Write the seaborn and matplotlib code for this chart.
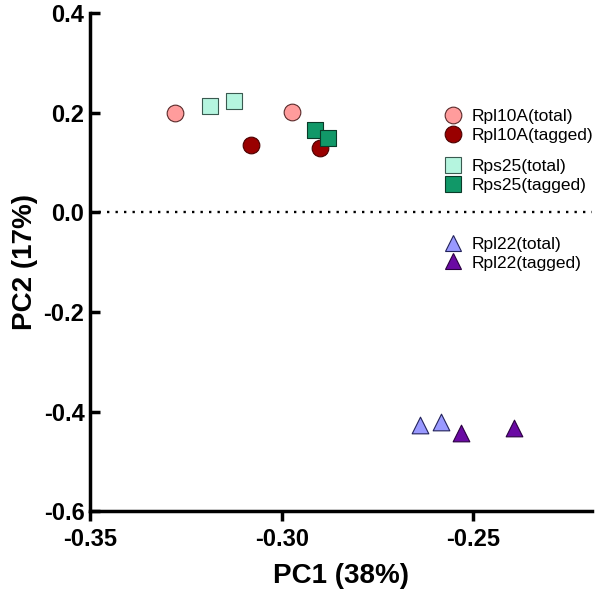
import pandas as pd
import matplotlib
matplotlib.use('Agg')
import matplotlib.pyplot as plt
import seaborn as sns
from matplotlib.lines import Line2D

# PCA scores
groups = ['Rpl10A(total)', 'Rpl10A(tagged)', 'Rps25(total)', 'Rps25(tagged)',
          'Rpl22(total)', 'Rpl22(tagged)']
pc1 = {
    'Rpl10A(total)': [-0.3278, -0.2973],
    'Rpl10A(tagged)': [-0.3080, -0.2901],
    'Rps25(total)': [-0.3187, -0.3124],
    'Rps25(tagged)': [-0.2914, -0.2880],
    'Rpl22(total)': [-0.2640, -0.2584],
    'Rpl22(tagged)': [-0.2531, -0.2395],
}
pc2 = {
    'Rpl10A(total)': [0.199, 0.201],
    'Rpl10A(tagged)': [0.135, 0.130],
    'Rps25(total)': [0.213, 0.224],
    'Rps25(tagged)': [0.166, 0.150],
    'Rpl22(total)': [-0.427, -0.421],
    'Rpl22(tagged)': [-0.443, -0.434],
}
colors = {
    'Rpl10A(total)': '#FF9C9C',
    'Rpl10A(tagged)': '#990000',
    'Rps25(total)': '#B5F5DF',
    'Rps25(tagged)': '#119868',
    'Rpl22(total)': '#9999FF',
    'Rpl22(tagged)': '#6A0AA3',
}
edges = {
    'Rpl10A(total)': '#5A2A2A',
    'Rpl10A(tagged)': '#4A0000',
    'Rps25(total)': '#3A5A50',
    'Rps25(tagged)': '#0A3A28',
    'Rpl22(total)': '#22225A',
    'Rpl22(tagged)': '#2A0040',
}
markers = {
    'Rpl10A(total)': 'o', 'Rpl10A(tagged)': 'o',
    'Rps25(total)': 's', 'Rps25(tagged)': 's',
    'Rpl22(total)': '^', 'Rpl22(tagged)': '^',
}

rows = []
for g in groups:
    for x, y in zip(pc1[g], pc2[g]):
        rows.append({'group': g, 'PC1': x, 'PC2': y})
df = pd.DataFrame(rows)

sns.set_style('ticks')
plt.rcParams['font.family'] = ['Liberation Sans', 'DejaVu Sans']
plt.rcParams['text.color'] = 'black'
plt.rcParams['axes.labelcolor'] = 'black'
plt.rcParams['xtick.color'] = 'black'
plt.rcParams['ytick.color'] = 'black'
plt.rcParams['axes.edgecolor'] = 'black'

fig = plt.figure(figsize=(6, 5.93), dpi=100)
ax = fig.add_axes([0.15, 0.138, 0.837, 0.84])

ax.axhline(0, color='black', lw=1.7, linestyle=(0, (1, 2.6)), zorder=1)

for g in groups:
    sub = df[df['group'] == g]
    sns.scatterplot(data=sub, x='PC1', y='PC2', ax=ax, marker=markers[g],
                    color=colors[g], edgecolor=edges[g], linewidth=0.8,
                    s=144, legend=False, zorder=3)

ax.set_xlim(-0.35, -0.219)
ax.set_ylim(-0.6, 0.4)
ax.set_xticks([-0.35, -0.30, -0.25])
ax.set_xticklabels(['-0.35', '-0.30', '-0.25'])
ax.set_yticks([-0.6, -0.4, -0.2, 0.0, 0.2, 0.4])
ax.set_yticklabels(['-0.6', '-0.4', '-0.2', '0.0', '0.2', '0.4'])

for side in ['top', 'right']:
    ax.spines[side].set_visible(False)
for side in ['left', 'bottom']:
    ax.spines[side].set_linewidth(2.5)
ax.tick_params(axis='x', direction='out', length=7, width=2.5, labelsize=17, pad=5)
ax.tick_params(axis='y', direction='in', length=7, width=2.5, labelsize=17, pad=4)
for lab in ax.get_xticklabels() + ax.get_yticklabels():
    lab.set_fontweight('bold')

ax.set_xlabel('PC1 (38%)', fontsize=20, fontweight='bold', labelpad=9)
ax.set_ylabel('PC2 (17%)', fontsize=20, fontweight='bold', labelpad=4)

# legend in three pairs, like the original
pairs = [groups[0:2], groups[2:4], groups[4:6]]
centers = [0.788, 0.704, 0.5725]
for pair, cy in zip(pairs, centers):
    handles = [Line2D([], [], linestyle='none', marker=markers[g], markersize=12,
                      markerfacecolor=colors[g], markeredgecolor=edges[g],
                      markeredgewidth=0.8, label=g) for g in pair]
    leg = fig.legend(handles=handles, loc='center left', bbox_to_anchor=(0.742, cy),
                     frameon=False, fontsize=12.5, borderpad=0, borderaxespad=0,
                     handlelength=0.9, handletextpad=0.65, labelspacing=0.22)

fig.savefig('out.png', dpi=100)
